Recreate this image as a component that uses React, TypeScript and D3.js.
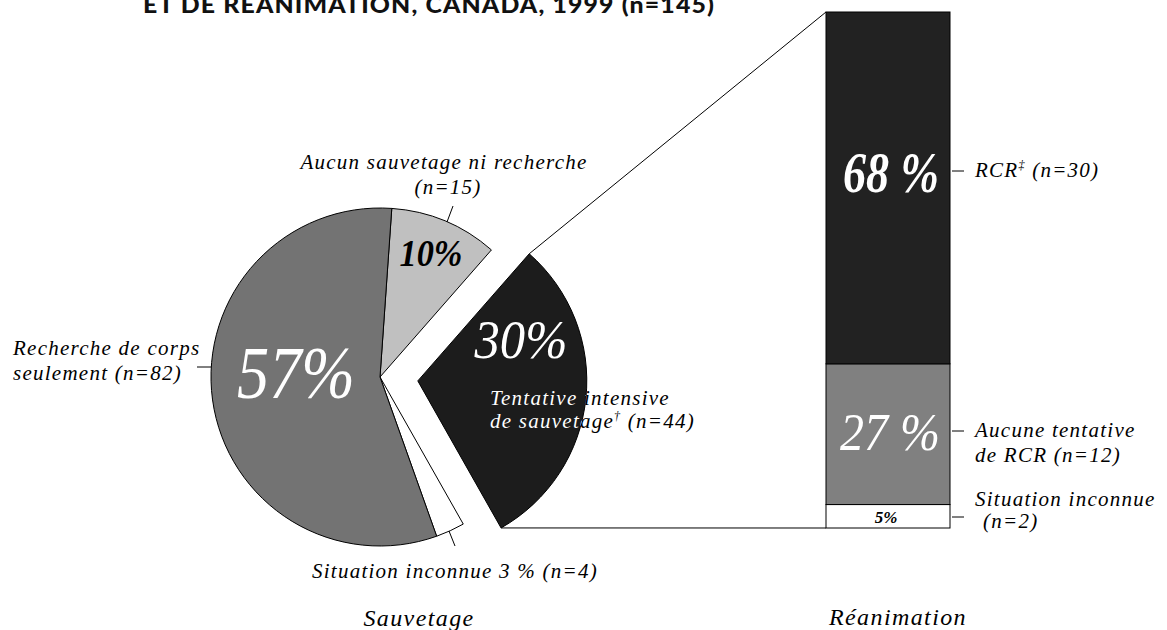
import React from 'react';
import * as d3 from 'd3';

// ---- data ----
const sliceNames = ['Aucun sauvetage ni recherche', 'Tentative intensive de sauvetage', 'Situation inconnue', 'Recherche de corps seulement'];
const sliceCounts = [15, 44, 4, 82];
const slicePct = ['10%', '30%', '3 %', '57%'];
const sliceColors = ['#c0c0c0', '#1c1c1c', '#ffffff', '#737373'];

const barNames = ['Situation inconnue', 'Aucune tentative de RCR', 'RCR'];
const barCounts = [2, 12, 30]; // bottom to top
const barPct = ['5%', '27 %', '68 %'];
const barColors = ['#ffffff', '#808080', '#222222'];

const titleText = 'ET DE RÉANIMATION, CANADA, 1999 (n=145)';

// ---- layout ----
const W = 1167, H = 630;
const cx = 380, cy = 377, R = 169;
const startDeg = 4;
const explodeIdx = 1;
const explodeDist = 38;
const barX0 = 826, barX1 = 950, barTop = 12, barBottom = 528;

const serif = '"Liberation Serif", "DejaVu Serif", serif';
const labelStyle: React.CSSProperties = { fontFamily: serif, fontStyle: 'italic', fontSize: 21, letterSpacing: 1.25 };

export default function App() {
  const start = (startDeg * Math.PI) / 180;
  const pie = d3.pie<number>().sort(null).value(d => d).startAngle(start).endAngle(start + 2 * Math.PI);
  const arcs = pie(sliceCounts);
  const arc = d3.arc<d3.PieArcDatum<number>>().innerRadius(0).outerRadius(R);

  const ex = arcs[explodeIdx];
  const mid = (ex.startAngle + ex.endAngle) / 2;
  const edx = explodeDist * Math.sin(mid);
  const edy = -explodeDist * Math.cos(mid);
  const exCx = cx + edx, exCy = cy + edy;
  const topPt: [number, number] = [exCx + R * Math.sin(ex.startAngle), exCy - R * Math.cos(ex.startAngle)];
  const botPt: [number, number] = [exCx + R * Math.sin(ex.endAngle), exCy - R * Math.cos(ex.endAngle)];

  const total = d3.sum(barCounts);
  const y = d3.scaleLinear().domain([0, total]).range([barBottom, barTop]);
  const cum = barCounts.map((_, i) => d3.sum(barCounts.slice(0, i)));

  const exPath = arc(ex) || '';

  return (
    <svg width={W} height={H} style={{ position: 'absolute', left: 0, top: 0, background: '#fff' }}>
      <defs>
        <clipPath id="exclip">
          <path d={exPath} transform={`translate(${exCx},${exCy})`} />
        </clipPath>
      </defs>

      {/* title (clipped at the top, as in the source) */}
      <text x={143} y={13} textLength={572} lengthAdjust="spacingAndGlyphs"
        style={{ fontFamily: 'Lato, "DejaVu Sans", sans-serif', fontWeight: 900, fontSize: 22, letterSpacing: 1 }} fill="#111">
        {titleText}
      </text>

      {/* connector lines */}
      <line x1={topPt[0]} y1={topPt[1]} x2={barX0} y2={y(total)} stroke="#000" strokeWidth={1} />
      <line x1={botPt[0]} y1={botPt[1]} x2={barX0} y2={y(0)} stroke="#000" strokeWidth={1} />

      {/* pie */}
      {arcs.map((a, i) => {
        const t = i === explodeIdx ? `translate(${exCx},${exCy})` : `translate(${cx},${cy})`;
        return <path key={i} d={arc(a) || ''} transform={t} fill={sliceColors[i]} stroke="#000" strokeWidth={1} />;
      })}

      {/* pie percentages */}
      <text x={431} y={266} textAnchor="middle" textLength={63} lengthAdjust="spacingAndGlyphs"
        style={{ fontFamily: serif, fontStyle: 'italic', fontWeight: 700, fontSize: 37 }} fill="#000">{slicePct[0]}</text>
      <text x={521} y={358} textAnchor="middle" textLength={93} lengthAdjust="spacingAndGlyphs"
        style={{ fontFamily: serif, fontStyle: 'italic', fontSize: 55 }} fill="#fff">{slicePct[1]}</text>
      <text x={296} y={398} textAnchor="middle" textLength={118} lengthAdjust="spacingAndGlyphs"
        style={{ fontFamily: serif, fontStyle: 'italic', fontSize: 73 }} fill="#fff">{slicePct[3]}</text>

      {/* pie labels */}
      <text x={444} y={169} textAnchor="middle" style={labelStyle}>{sliceNames[0]}</text>
      <text x={448} y={194} textAnchor="middle" style={labelStyle}>(n={sliceCounts[0]})</text>
      <line x1={453} y1={206} x2={447} y2={222} stroke="#000" strokeWidth={1} />

      <text x={13} y={355} style={labelStyle}>Recherche de corps</text>
      <text x={13} y={380} style={labelStyle}>seulement (n={sliceCounts[3]})</text>
      <line x1={197} y1={367} x2={cx - R} y2={367} stroke="#000" strokeWidth={1} />

      {[0, 1].map(k => (
        <g key={k} clipPath={k === 1 ? 'url(#exclip)' : undefined}>
          <text x={490} y={405} style={labelStyle} fill={k === 1 ? '#fff' : '#000'}>Tentative intensive</text>
          <text x={490} y={428} style={labelStyle} fill={k === 1 ? '#fff' : '#000'}>
            de sauvetage<tspan dy={-8} fontSize={12}>†</tspan><tspan dy={8}> (n={sliceCounts[1]})</tspan>
          </text>
        </g>
      ))}

      <text x={312} y={578} style={labelStyle}>{sliceNames[2]} {slicePct[2]} (n={sliceCounts[2]})</text>
      <line x1={449} y1={531} x2={455} y2={546} stroke="#000" strokeWidth={1} />

      {/* stacked bar */}
      {barCounts.map((v, i) => (
        <rect key={i} x={barX0} y={y(cum[i] + v)} width={barX1 - barX0} height={y(cum[i]) - y(cum[i] + v)}
          fill={barColors[i]} stroke="#000" strokeWidth={1} />
      ))}

      <text x={891} y={192} textAnchor="middle" textLength={96} lengthAdjust="spacingAndGlyphs"
        style={{ fontFamily: serif, fontStyle: 'italic', fontWeight: 700, fontSize: 58 }} fill="#fff">{barPct[2]}</text>
      <text x={890} y={450} textAnchor="middle" textLength={100} lengthAdjust="spacingAndGlyphs"
        style={{ fontFamily: serif, fontStyle: 'italic', fontSize: 52 }} fill="#fff">{barPct[1]}</text>
      <text x={886} y={523} textAnchor="middle"
        style={{ fontFamily: serif, fontStyle: 'italic', fontWeight: 700, fontSize: 17 }} fill="#000">{barPct[0]}</text>

      {/* bar labels */}
      <line x1={barX1 + 2} y1={171} x2={964} y2={171} stroke="#000" strokeWidth={1} />
      <text x={975} y={177} style={labelStyle}>{barNames[2]}<tspan dy={-8} fontSize={12}>‡</tspan><tspan dy={8}> (n={barCounts[2]})</tspan></text>

      <line x1={barX1 + 2} y1={431} x2={964} y2={431} stroke="#000" strokeWidth={1} />
      <text x={975} y={437} style={labelStyle}>Aucune tentative</text>
      <text x={975} y={462} style={labelStyle}>de RCR (n={barCounts[1]})</text>

      <line x1={barX1 + 2} y1={517} x2={964} y2={517} stroke="#000" strokeWidth={1} />
      <text x={975} y={506} style={labelStyle}>{barNames[0]}</text>
      <text x={983} y={528} style={labelStyle}>(n={barCounts[0]})</text>

      {/* panel titles */}
      <text x={419} y={626} textAnchor="middle" style={{ ...labelStyle, fontSize: 24, letterSpacing: 1.4 }}>Sauvetage</text>
      <text x={898} y={625} textAnchor="middle" style={{ ...labelStyle, fontSize: 24, letterSpacing: 1.4 }}>Réanimation</text>
    </svg>
  );
}
